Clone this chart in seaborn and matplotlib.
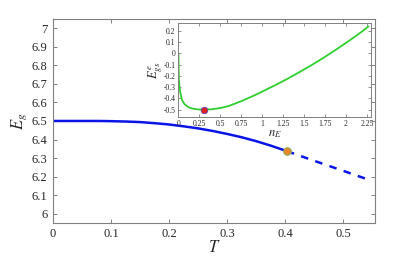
import matplotlib
matplotlib.use("Agg")
import matplotlib.pyplot as plt
import numpy as np
import pandas as pd
import seaborn as sns

# main curve: band gap vs temperature
T_solid = [0.0, 0.05, 0.08, 0.1, 0.125, 0.15, 0.175, 0.2, 0.225, 0.25, 0.275,
           0.3, 0.325, 0.35, 0.375, 0.403]
Eg_solid = [6.5, 6.5, 6.5, 6.499, 6.497, 6.494, 6.488, 6.481, 6.471, 6.46, 6.446,
            6.43, 6.412, 6.391, 6.367, 6.337]
T_dash = [0.403, 0.45, 0.5, 0.54]
Eg_dash = [6.337, 6.285, 6.231, 6.187]
T_mark = [0.403]
Eg_mark = [6.337]

# inset: ground state energy vs n
n_vals = [0.0, 0.002, 0.005, 0.01, 0.02, 0.04, 0.07, 0.12, 0.18, 0.24, 0.3,
          0.4, 0.5, 0.6, 0.75, 0.9, 1.0, 1.15, 1.3, 1.45, 1.6, 1.75, 1.9,
          2.05, 2.2, 2.27]
E_vals = [0.0, -0.12, -0.22, -0.28, -0.34, -0.41, -0.45, -0.479, -0.493, -0.499, -0.5,
          -0.497, -0.486, -0.468, -0.425, -0.376, -0.34, -0.285, -0.227, -0.165, -0.1,
          -0.031, 0.042, 0.118, 0.198, 0.24]
n_mark = [0.3]
E_mark = [-0.5]

sns.set_style("ticks")
plt.rcParams['font.family'] = ['Liberation Serif', 'DejaVu Serif']
plt.rcParams['mathtext.fontset'] = 'stix'

frame = '#808080'
blue = '#0a14e6'
green = '#2fcf2f'

fig = plt.figure(figsize=(4.15, 2.61), dpi=100)
ax = fig.add_axes([0.128, 0.146, 0.776, 0.781])

df_s = pd.DataFrame({'T': T_solid, 'E': Eg_solid})
df_d = pd.DataFrame({'T': T_dash, 'E': Eg_dash})
sns.lineplot(data=df_s, x='T', y='E', ax=ax, color=blue, lw=1.8, sort=False)
sns.lineplot(data=df_d, x='T', y='E', ax=ax, color=blue, lw=1.8, sort=False,
             linestyle=(0, (3, 3)))
sns.scatterplot(x=T_mark, y=Eg_mark, ax=ax, color='#e8872a', edgecolor='#8fb05a',
                s=30, linewidth=0.8, zorder=5)

ax.set_xlim(0, 0.555)
ax.set_ylim(5.95, 7.05)
ax.set_xticks([0, 0.1, 0.2, 0.3, 0.4, 0.5])
ax.set_xticklabels(['0', '0.1', '0.2', '0.3', '0.4', '0.5'])
ax.set_yticks(np.round(np.arange(6.0, 7.01, 0.1), 1))
ax.set_yticklabels(['6', '6.1', '6.2', '6.3', '6.4', '6.5', '6.6', '6.7', '6.8', '6.9', '7'])
ax.tick_params(direction='in', length=3, width=0.7, color=frame, labelsize=9,
               bottom=True, left=True, top=True, right=True, pad=4)
ax.set_xlabel('$T$', fontsize=12, labelpad=0)
ax.set_ylabel('$E_g$', fontsize=12, labelpad=2)
for sp in ax.spines.values():
    sp.set_visible(True)
    sp.set_color(frame)
    sp.set_linewidth(0.8)

# inset
axin = fig.add_axes([0.43, 0.552, 0.464, 0.36])
df_i = pd.DataFrame({'n': n_vals, 'E': E_vals})
sns.lineplot(data=df_i, x='n', y='E', ax=axin, color=green, lw=1.3, sort=False)
sns.scatterplot(x=n_mark, y=E_mark, ax=axin, color='#e02020', edgecolor='#6040b0',
                s=22, linewidth=0.6, zorder=5)
axin.set_xlim(0, 2.3)
axin.set_ylim(-0.565, 0.27)
axin.set_xticks([0, 0.25, 0.5, 0.75, 1, 1.25, 1.5, 1.75, 2, 2.25])
axin.set_xticklabels(['0', '0.25', '0.5', '0.75', '1', '1.25', '1.5', '1.75', '2', '2.25'])
axin.set_yticks([-0.5, -0.4, -0.3, -0.2, -0.1, 0, 0.1, 0.2])
axin.set_yticklabels(['-0.5', '-0.4', '-0.3', '-0.2', '-0.1', '0', '0.1', '0.2'])
axin.tick_params(direction='in', length=2, width=0.6, color=frame, labelsize=5.5,
                 bottom=True, left=True, top=True, right=True, pad=2)
axin.set_xlabel(r'$n_E$', fontsize=9, labelpad=0)
axin.set_ylabel(r'$E^{e}_{gs}$', fontsize=9, labelpad=-1)
for sp in axin.spines.values():
    sp.set_visible(True)
    sp.set_color(frame)
    sp.set_linewidth(0.7)

fig.savefig('out.png', dpi=100)
